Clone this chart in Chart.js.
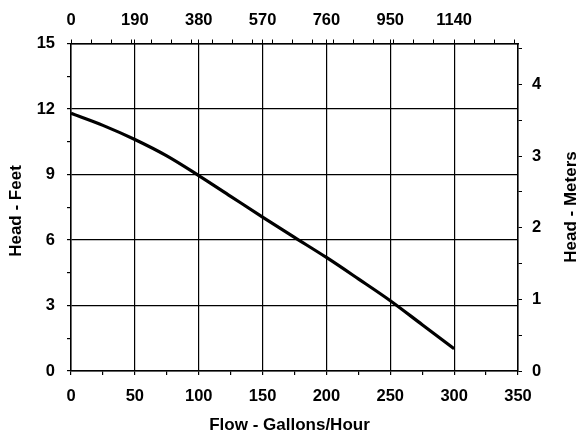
<!DOCTYPE html>
<html>
<head>
<meta charset="utf-8">
<script src="https://cdn.jsdelivr.net/npm/chart.js@4/dist/chart.umd.min.js"></script>
<style>
  html, body { margin: 0; padding: 0; background: #fff; }
  #wrap { width: 578px; height: 435px; position: relative; }
</style>
</head>
<body>
<div id="wrap"><canvas id="pump-curve"></canvas></div>
<script>
// Pump curve
const flowGph = [0, 25, 50, 75, 100, 125, 150, 175, 200, 225, 250, 275, 300];
const headFeet = [11.8, 11.25, 10.6, 9.85, 8.95, 8.0, 7.05, 6.12, 5.2, 4.22, 3.22, 2.12, 1.02];

// Axis ticks
const flowTicks = [0, 50, 100, 150, 200, 250, 300, 350];
const feetTicks = [0, 3, 6, 9, 12, 15];
const meterTicks = [0, 1, 2, 3, 4];
const litersTicks = [0, 190, 380, 570, 760, 950, 1140];

const LPH_PER_GPH = 3.8;
const FT_PER_M = 3.2808;
const FLOW_MAX = 350;
const FEET_MAX = 15;

const FAMILY = '"Liberation Sans", Arial, sans-serif';
Chart.defaults.color = '#000';
Chart.defaults.font = { family: FAMILY, size: 16.5, weight: 'bold' };

// small ticks between the labelled ones
function minorSteps(max, step) {
  const out = [];
  for (let v = 0; v <= max + 1e-9; v += step) out.push(Math.round(v * 1000) / 1000);
  return out;
}
const topAllTicks = [...new Set(minorSteps(1320, 60).concat(litersTicks))].sort((a, b) => a - b);

const gridOnMajor = (majors) => (ctx) =>
  (ctx.tick && majors.includes(ctx.tick.value)) ? '#000' : 'rgba(0,0,0,0)';

// axis titles: both vertical ones read bottom-to-top
const axisTitles = {
  id: 'axisTitles',
  afterDraw(chart) {
    const { ctx } = chart;
    const put = (text, x, y, rot) => {
      ctx.save();
      ctx.translate(x, y);
      ctx.rotate(rot);
      ctx.font = 'bold 17px ' + FAMILY;
      ctx.fillStyle = '#000';
      ctx.textAlign = 'center';
      ctx.textBaseline = 'middle';
      ctx.fillText(text, 0, 0);
      ctx.restore();
    };
    put('Flow - Gallons/Hour', 289.5, 425, 0);
    put('Head - Feet', 16, 211, -Math.PI / 2);
    put('Head - Meters', 571, 207, -Math.PI / 2);
  }
};

new Chart(document.getElementById('pump-curve'), {
  type: 'line',
  data: {
    datasets: [{
      data: flowGph.map((x, i) => ({ x, y: headFeet[i] })),
      borderColor: '#000',
      borderWidth: 3.2,
      pointRadius: 0,
      cubicInterpolationMode: 'monotone',
      fill: false
    }]
  },
  options: {
    responsive: true,
    maintainAspectRatio: false,
    animation: false,
    layout: { padding: 0 },
    plugins: { legend: { display: false }, tooltip: { enabled: false } },
    scales: {
      x: {
        type: 'linear', position: 'bottom', min: 0, max: FLOW_MAX,
        afterBuildTicks: (s) => { s.ticks = minorSteps(FLOW_MAX, 25).map(value => ({ value })); },
        afterFit: (s) => { s.height = 64; },
        ticks: {
          autoSkip: false, maxRotation: 0, padding: 12,
          callback: (v) => flowTicks.includes(v) ? String(v) : ''
        },
        grid: { color: gridOnMajor(flowTicks), tickColor: '#000', tickLength: 4, lineWidth: 1.2 },
        border: { color: '#000', width: 1.5 }
      },
      x2: {
        type: 'linear', position: 'top', min: 0, max: FLOW_MAX * LPH_PER_GPH,
        afterBuildTicks: (s) => { s.ticks = topAllTicks.map(value => ({ value })); },
        afterFit: (s) => { s.height = 43.5; },
        ticks: {
          autoSkip: false, maxRotation: 0, padding: 9,
          callback: (v) => litersTicks.includes(v) ? String(v) : ''
        },
        grid: { drawOnChartArea: false, tickColor: '#000', tickLength: 4 },
        border: { color: '#000', width: 1.5 }
      },
      y: {
        type: 'linear', position: 'left', min: 0, max: FEET_MAX,
        afterBuildTicks: (s) => { s.ticks = minorSteps(FEET_MAX, 1.5).map(value => ({ value })); },
        afterFit: (s) => { s.width = 71; },
        ticks: {
          autoSkip: false, padding: 12,
          callback: (v) => feetTicks.includes(v) ? String(v) : ''
        },
        grid: { color: gridOnMajor(feetTicks), tickColor: '#000', tickLength: 4, lineWidth: 1.2 },
        border: { color: '#000', width: 1.5 }
      },
      y2: {
        type: 'linear', position: 'right', min: 0, max: FEET_MAX / FT_PER_M,
        afterBuildTicks: (s) => { s.ticks = minorSteps(4.5, 0.5).map(value => ({ value })); },
        afterFit: (s) => { s.width = 60; },
        ticks: {
          autoSkip: false, padding: 10,
          callback: (v) => meterTicks.includes(v) ? String(v) : ''
        },
        grid: { drawOnChartArea: false, tickColor: '#000', tickLength: 4 },
        border: { color: '#000', width: 1.5 }
      }
    }
  },
  plugins: [axisTitles]
});
</script>
</body>
</html>
